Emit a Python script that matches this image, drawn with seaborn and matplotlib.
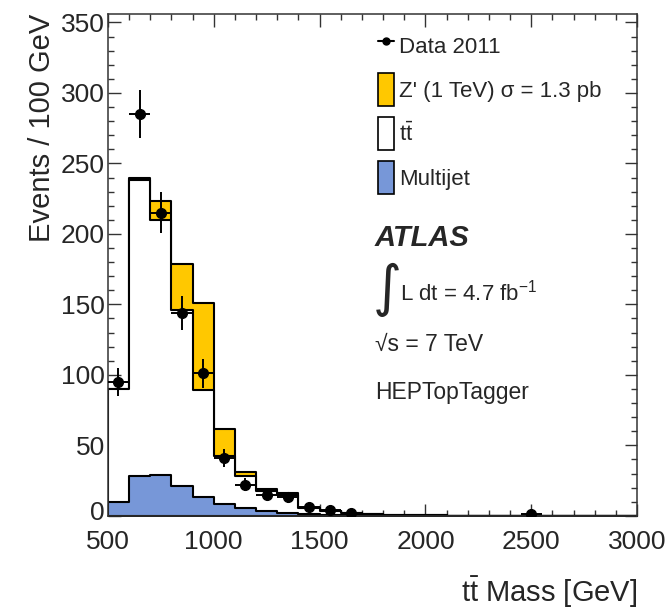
import numpy as np
import pandas as pd
import matplotlib
matplotlib.use("Agg")
import matplotlib.pyplot as plt
import matplotlib.transforms as mtransforms
from matplotlib.lines import Line2D
from matplotlib.patches import Patch
from matplotlib.ticker import MultipleLocator
import seaborn as sns

# bin edges (100 GeV bins from 500 to 3000 GeV)
bin_edges = list(range(500, 3001, 100))
bin_centers = [e + 50 for e in bin_edges[:-1]]

# stacked MC contributions per bin (events / 100 GeV)
multijet = [10, 28, 29, 21.5, 13.5, 8.7, 5.9, 3.5, 2.1, 1.3, 0.8, 0.5, 0.3,
            0.2, 0.1, 0.05, 0, 0, 0, 0, 0, 0, 0, 0, 0]
ttbar = [80, 210, 181, 124.5, 75.5, 33.8, 22.6, 14.0, 12.9, 4.2, 2.4, 1.5, 1.2,
         0.6, 0.4, 0.25, 0.2, 0.1, 0.1, 0.05, 0, 0, 0, 0, 0]
zprime = [0, 1.6, 13, 33, 62, 19, 2.3, 1.5, 1.0, 0.4, 0.3, 0.2, 0.1,
          0.05, 0, 0, 0, 0, 0, 0, 0, 0, 0, 0, 0]

# data points (non-empty bins only)
data_mass = [550, 650, 750, 850, 950, 1050, 1150, 1250, 1350, 1450, 1550, 1650, 2500]
data_events = [95, 285, 215, 144, 101, 41, 22, 15, 13, 6, 4, 2, 1]

sns.set_theme(style="ticks")
plt.rcParams["font.family"] = ["Liberation Sans", "DejaVu Sans"]
plt.rcParams["mathtext.fontset"] = "custom"
plt.rcParams["mathtext.rm"] = "Liberation Sans"
plt.rcParams["mathtext.it"] = "Liberation Sans:italic"
plt.rcParams["mathtext.default"] = "regular"

col_zp = "#FFC800"
col_mj = "#7797D8"

df = pd.DataFrame({
    "mass": bin_centers,
    "multijet": multijet,
    "ttbar": ttbar,
    "zprime": zprime,
})
df["bkg"] = df["multijet"] + df["ttbar"]
df["total"] = df["bkg"] + df["zprime"]

fig = plt.figure(figsize=(6.7, 6.09), dpi=100)
ax = fig.add_axes([0.161, 0.153, 0.79, 0.824])

# draw stack from the top layer down
for col, fc in [("total", col_zp), ("bkg", "white"), ("multijet", col_mj)]:
    sns.histplot(
        data=df, x="mass", weights=col, bins=bin_edges, element="step",
        fill=True, color=fc, edgecolor="black", linewidth=1.5,
        alpha=1, ax=ax,
    )

ax.errorbar(
    data_mass, data_events, yerr=np.sqrt(data_events), xerr=50,
    fmt="o", color="black", markersize=7, elinewidth=1.4, capsize=0, zorder=10,
)

ax.set_xlim(500, 3000)
ax.set_ylim(0, 356)
ax.xaxis.set_major_locator(MultipleLocator(500))
ax.xaxis.set_minor_locator(MultipleLocator(100))
ax.yaxis.set_major_locator(MultipleLocator(50))
ax.yaxis.set_minor_locator(MultipleLocator(10))
ax.tick_params(which="both", direction="in", top=True, right=True,
               labelsize=19, width=1.0, color="#333333")
ax.tick_params(which="major", length=9)
ax.tick_params(which="minor", length=4.5)
ax.tick_params(axis="x", pad=10)
ax.tick_params(axis="y", pad=2)
for s in ax.spines.values():
    s.set_linewidth(1.1)
    s.set_color("#333333")

ax.set_xlabel(r"t$\bar{t}$ Mass [GeV]", fontsize=21, loc="right", labelpad=15)
ax.set_ylabel("Events / 100 GeV", fontsize=21, loc="top", labelpad=4)

handles = [
    Line2D([], [], color="black", marker="o", markersize=5, lw=1.5),
    Patch(facecolor=col_zp, edgecolor="black", linewidth=1.2),
    Patch(facecolor="white", edgecolor="black", linewidth=1.2),
    Patch(facecolor=col_mj, edgecolor="black", linewidth=1.2),
]
labels = ["Data 2011", "Z' (1 TeV) σ = 1.3 pb", r"t$\bar{t}$", "Multijet"]
ax.legend(handles, labels, loc="upper left", bbox_to_anchor=(0.51, 0.970),
          frameon=False, fontsize=16, handlelength=0.75, handleheight=1.9,
          labelspacing=0.5, handletextpad=0.2, borderpad=0, borderaxespad=0)

ax.text(0.503, 0.554, "ATLAS", transform=ax.transAxes, fontsize=21,
        fontweight="bold", fontstyle="italic", va="center", ha="left")
ax.text(0.500, 0.450, "∫", transform=ax.transAxes, fontsize=40,
        va="center", ha="left", family="DejaVu Sans")
ax.text(0.552, 0.444, r"L dt = 4.7 fb$^{-1}$", transform=ax.transAxes,
        fontsize=16, va="center", ha="left")
ax.text(0.505, 0.341, "√s = 7 TeV", transform=ax.transAxes, fontsize=16.5,
        va="center", ha="left")
ax.text(0.505, 0.245, "HEPTopTagger", transform=ax.transAxes, fontsize=16.5,
        va="center", ha="left")

# lift the "0" tick label a little, as in the original
fig.canvas.draw()
for tick in ax.yaxis.get_major_ticks():
    if tick.get_loc() == 0:
        lab = tick.label1
        lab.set_transform(lab.get_transform()
                          + mtransforms.ScaledTranslation(0, 4 / 72, fig.dpi_scale_trans))

plt.savefig("out.png", dpi=100)
plt.close()
